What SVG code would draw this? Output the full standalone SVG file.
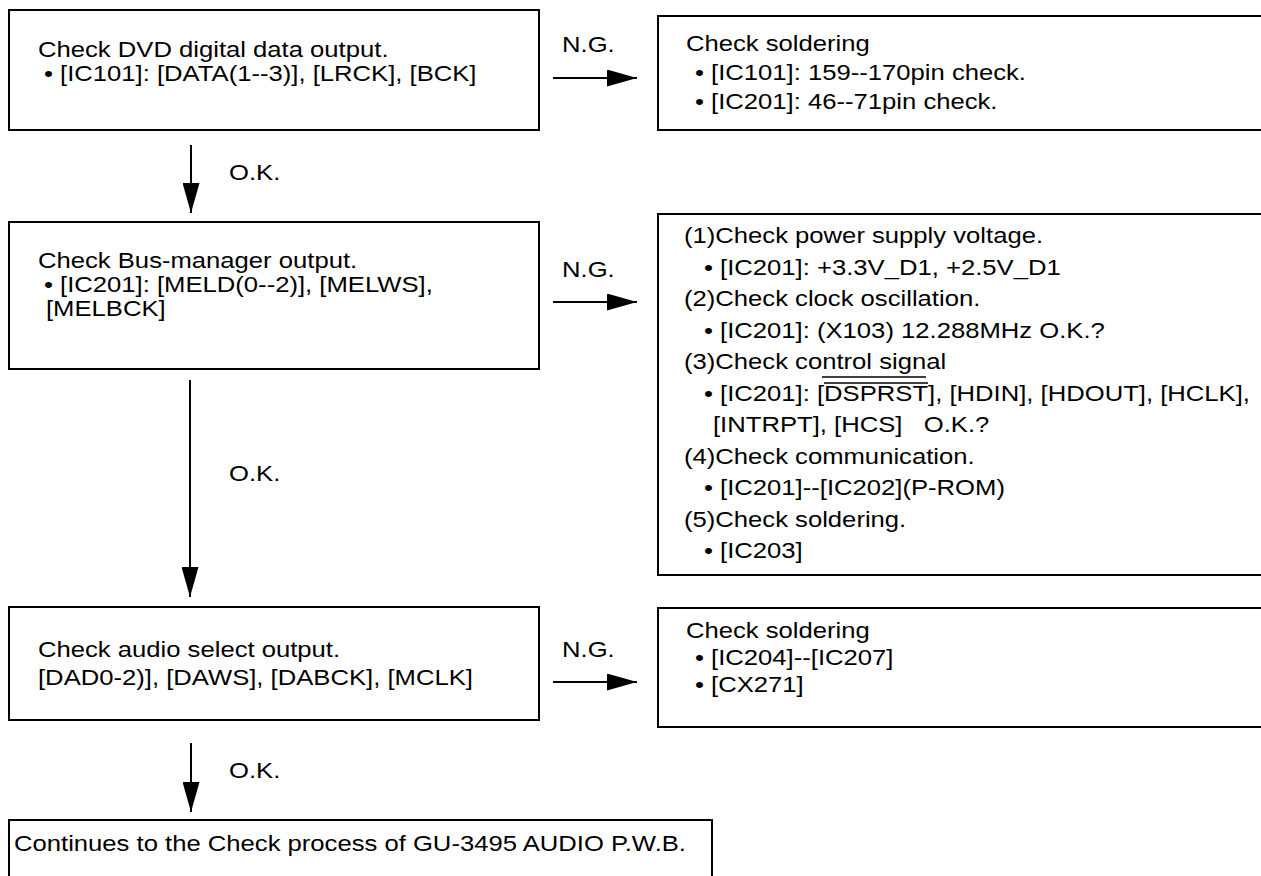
<svg xmlns="http://www.w3.org/2000/svg" width="1261" height="876" viewBox="0 0 1261 876">
<style>
.box{fill:#fff;stroke:#000;stroke-width:2}
.t{font-family:"Liberation Sans",Arial,sans-serif;font-size:22.5px;fill:#000}
.c{stroke:#000;stroke-width:2;fill:none}
.u{stroke:#000;stroke-width:1.5}
</style>
<defs>
<marker id="ah" markerUnits="userSpaceOnUse" markerWidth="31" markerHeight="17" refX="30" refY="8.5" orient="auto">
<path d="M0,0 L30,8.5 L0,17 z" fill="#000"/>
</marker>
</defs>
<rect width="1261" height="876" fill="#fff"/>
<g id="n1">
<rect class="box" x="9" y="10" width="530" height="120"/>
<text class="t" transform="matrix(1.14 0 0 1 38 57)">Check DVD digital data output.</text>
<text class="t" transform="matrix(1.14 0 0 1 44 81)">• [IC101]: [DATA(1--3)], [LRCK], [BCK]</text>
</g>
<g id="n2">
<rect class="box" x="658" y="16" width="612" height="114"/>
<text class="t" transform="matrix(1.14 0 0 1 686 51)">Check soldering</text>
<text class="t" transform="matrix(1.14 0 0 1 695 80)">• [IC101]: 159--170pin check.</text>
<text class="t" transform="matrix(1.14 0 0 1 695 109)">• [IC201]: 46--71pin check.</text>
</g>
<g id="n3">
<rect class="box" x="9" y="222" width="530" height="147"/>
<text class="t" transform="matrix(1.14 0 0 1 38 268)">Check Bus-manager output.</text>
<text class="t" transform="matrix(1.14 0 0 1 44 292)">• [IC201]: [MELD(0--2)], [MELWS],</text>
<text class="t" transform="matrix(1.14 0 0 1 46 316)">[MELBCK]</text>
</g>
<g id="n4">
<rect class="box" x="658" y="214" width="612" height="361"/>
<text class="t" transform="matrix(1.14 0 0 1 684 243)">(1)Check power supply voltage.</text>
<text class="t" transform="matrix(1.14 0 0 1 704 274.5)">• [IC201]: +3.3V_D1, +2.5V_D1</text>
<text class="t" transform="matrix(1.14 0 0 1 684 306)">(2)Check clock oscillation.</text>
<text class="t" transform="matrix(1.14 0 0 1 704 337.5)">• [IC201]: (X103) 12.288MHz O.K.?</text>
<text class="t" transform="matrix(1.14 0 0 1 684 369)">(3)Check control signal</text>
<line class="u" x1="822" y1="377" x2="926" y2="377"/>
<text class="t" transform="matrix(1.14 0 0 1 704 400.5)">• [IC201]: [DSPRST], [HDIN], [HDOUT], [HCLK],</text>
<line class="u" x1="824" y1="383" x2="928" y2="383"/>
<text class="t" transform="matrix(1.14 0 0 1 713 432)" xml:space="preserve">[INTRPT], [HCS]   O.K.?</text>
<text class="t" transform="matrix(1.14 0 0 1 684 463.5)">(4)Check communication.</text>
<text class="t" transform="matrix(1.14 0 0 1 704 495)">• [IC201]--[IC202](P-ROM)</text>
<text class="t" transform="matrix(1.14 0 0 1 684 526.5)">(5)Check soldering.</text>
<text class="t" transform="matrix(1.14 0 0 1 704 558)">• [IC203]</text>
</g>
<g id="n5">
<rect class="box" x="9" y="607" width="530" height="113"/>
<text class="t" transform="matrix(1.14 0 0 1 38 657)">Check audio select output.</text>
<text class="t" transform="matrix(1.14 0 0 1 38 685)">[DAD0-2)], [DAWS], [DABCK], [MCLK]</text>
</g>
<g id="n6">
<rect class="box" x="658" y="608" width="612" height="119"/>
<text class="t" transform="matrix(1.14 0 0 1 686 638)">Check soldering</text>
<text class="t" transform="matrix(1.14 0 0 1 695 665)">• [IC204]--[IC207]</text>
<text class="t" transform="matrix(1.14 0 0 1 695 692)">• [CX271]</text>
</g>
<g id="n7">
<rect class="box" x="9" y="820" width="703" height="70"/>
<text class="t" transform="matrix(1.14 0 0 1 14 851)">Continues to the Check process of GU-3495 AUDIO P.W.B.</text>
</g>
<g id="connectors">
<line class="c" x1="553" y1="78" x2="637" y2="78" marker-end="url(#ah)"/>
<text class="t" transform="matrix(1.14 0 0 1 562 52)">N.G.</text>
<line class="c" x1="191" y1="145" x2="191" y2="213" marker-end="url(#ah)"/>
<text class="t" transform="matrix(1.14 0 0 1 229 180)">O.K.</text>
<line class="c" x1="553" y1="302" x2="637" y2="302" marker-end="url(#ah)"/>
<text class="t" transform="matrix(1.14 0 0 1 562 277)">N.G.</text>
<line class="c" x1="190" y1="380" x2="190" y2="597" marker-end="url(#ah)"/>
<text class="t" transform="matrix(1.14 0 0 1 229 481)">O.K.</text>
<line class="c" x1="553" y1="682" x2="637" y2="682" marker-end="url(#ah)"/>
<text class="t" transform="matrix(1.14 0 0 1 562 657)">N.G.</text>
<line class="c" x1="191" y1="743" x2="191" y2="812" marker-end="url(#ah)"/>
<text class="t" transform="matrix(1.14 0 0 1 229 778)">O.K.</text>
</g>
</svg>
